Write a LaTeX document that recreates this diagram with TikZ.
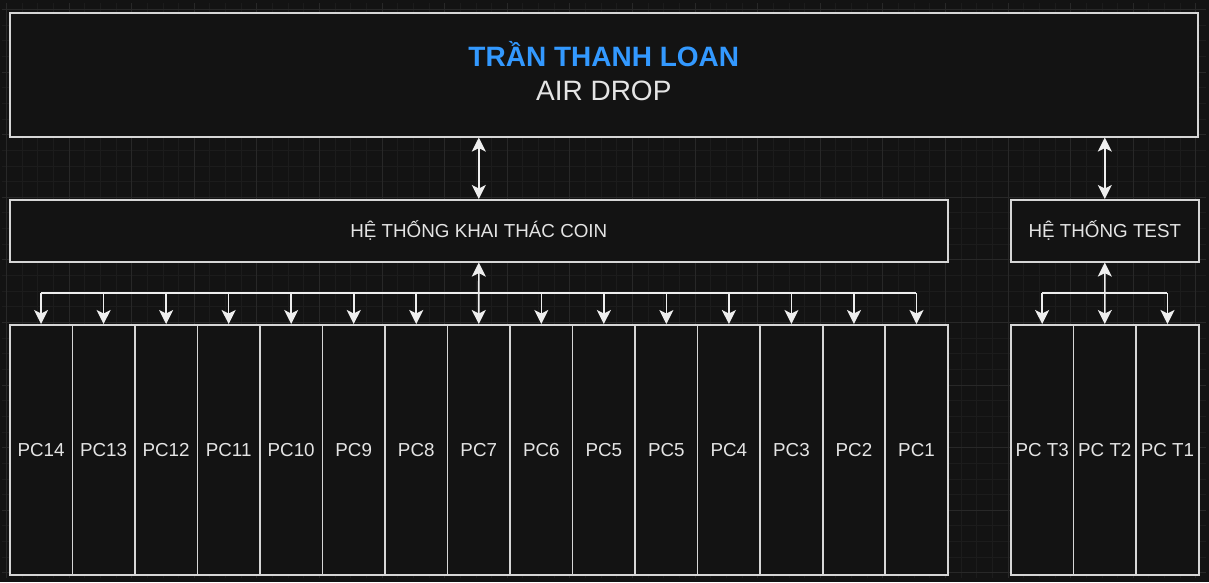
\documentclass[tikz,border=0pt]{standalone}
\usepackage{fontspec}
\setmainfont{Liberation Sans}
\usetikzlibrary{arrows.meta}
\definecolor{bg}{HTML}{131313}
\definecolor{gminor}{HTML}{1C1C1C}
\definecolor{gmajor}{HTML}{282828}
\definecolor{boxfill}{HTML}{131313}
\definecolor{edge}{HTML}{D6D6D6}
\definecolor{arr}{HTML}{EEEEEE}
\definecolor{txt}{HTML}{E4E4E4}
\definecolor{titleblue}{HTML}{3399FF}
\tikzset{
  box/.style={draw=edge, fill=boxfill, line width=1.6pt, inner sep=0pt, anchor=north west,
    text=txt, font=\fontsize{18.8}{22}\selectfont},
  conn/.style={draw=arr, line width=1.6pt},
  tip/.style={-{Stealth[length=14pt,width=14pt,inset=3.5pt]}},
  dtip/.style={{Stealth[length=14pt,width=14pt,inset=3.5pt]}-{Stealth[length=14pt,width=14pt,inset=3.5pt]}},
}
\begin{document}
\begin{tikzpicture}[x=1pt,y=-1pt]
\useasboundingbox (0,0) rectangle (1209,582);
\fill[bg] (0,0) rectangle (1209,582);
% grid
\foreach \k in {0,...,76} {
  \pgfmathsetmacro{\gx}{6.4+15.65*(\k-0)}
  \draw[gminor, line width=0.8pt] (\gx,3) -- (\gx,578);
}
\foreach \k in {0,...,36} {
  \pgfmathsetmacro{\gy}{9.4+15.65*\k}
  \draw[gminor, line width=0.8pt] (2,\gy) -- (1206,\gy);
}
\foreach \k in {0,...,19} {
  \pgfmathsetmacro{\gx}{6.4+62.6*\k}
  \draw[gmajor, line width=0.9pt] (\gx,3) -- (\gx,578);
}
\foreach \k in {0,...,9} {
  \pgfmathsetmacro{\gy}{9.4+62.6*\k}
  \draw[gmajor, line width=0.9pt] (2,\gy) -- (1206,\gy);
}
% main boxes
\node[box, minimum width=1188pt, minimum height=124pt] (top) at (9,12) {};
\node[align=center, text=txt, font=\fontsize{28}{34}\selectfont, inner sep=0pt]
  (title) at ([yshift=4pt]top.center)
  {{\color{titleblue}\bfseries TRẦN THANH LOAN}\\AIR DROP};
\node[box, minimum width=938pt, minimum height=62pt] (khai) at (9,199) {HỆ THỐNG KHAI THÁC COIN};
\node[box, minimum width=188pt, minimum height=62pt] (test) at (1010,199) {HỆ THỐNG TEST};
% PC boxes
\foreach \lab [count=\i from 0] in {PC14,PC13,PC12,PC11,PC10,PC9,PC8,PC7,PC6,PC5,PC5,PC4,PC3,PC2,PC1} {
  \node[box, minimum width=62.53pt, minimum height=250pt] (pc\i) at ({9+62.53*\i},324) {\lab};
}
\foreach \lab [count=\i from 0] in {PC T3,PC T2,PC T1} {
  \node[box, minimum width=62.67pt, minimum height=250pt] (t\i) at ({1010+62.67*\i},324) {\lab};
}
% connectors top
\draw[conn, dtip] (khai.north |- top.south) -- (khai.north);
\draw[conn, dtip] (test.north |- top.south) -- (test.north);
% bus for mining
\coordinate (busL) at (0,293);
\draw[conn] (pc0.north |- busL) -- (pc14.north |- busL);
\draw[conn, dtip] (khai.south) -- (pc7.north);
\foreach \i in {0,...,6,8,9,...,14} {
  \draw[conn, tip] (pc\i.north |- busL) -- (pc\i.north);
}
% bus for test
\draw[conn] (t0.north |- busL) -- (t2.north |- busL);
\draw[conn, dtip] (test.south) -- (t1.north);
\draw[conn, tip] (t0.north |- busL) -- (t0.north);
\draw[conn, tip] (t2.north |- busL) -- (t2.north);
\end{tikzpicture}
\end{document}
